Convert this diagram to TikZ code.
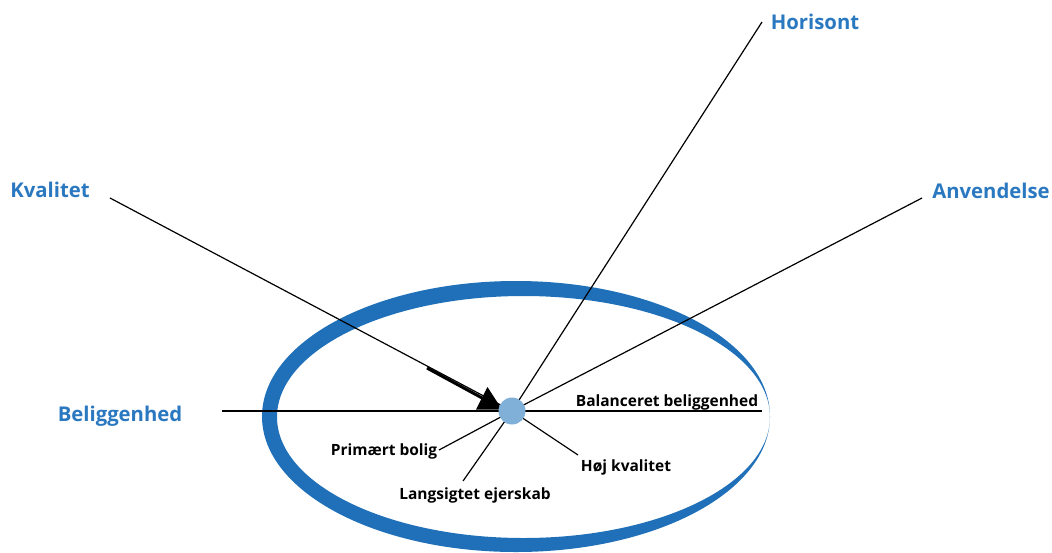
\documentclass[tikz,border=0pt]{standalone}
\usepackage{fontspec}
\setmainfont{Open Sans}
\definecolor{ringblue}{HTML}{1F70B8}
\definecolor{labelblue}{HTML}{2A78C0}
\definecolor{dotblue}{HTML}{80B0D8}
\begin{document}
\begin{tikzpicture}[x=1pt,y=-1pt,
  toplabel/.style={font=\fontsize{20.3}{24}\selectfont\bfseries, text=labelblue, anchor=base, inner sep=0pt},
  sublabel/.style={font=\fontsize{15.5}{18}\selectfont\bfseries, text=black, anchor=base, inner sep=0pt},
  spoke/.style={draw=black, line width=1.2pt}]
\useasboundingbox (0,0) rectangle (1052,552);
% ring
\fill[ringblue, even odd rule] (516,416.5) ellipse [x radius=254, y radius=135.5]
  (523.5,417) ellipse [x radius=246.5, y radius=121];
% hub position
\coordinate (c) at (512,411);
% free ends
\coordinate (kq) at (110,198);
\coordinate (ho) at (762,22);
\coordinate (an) at (922,198);
\coordinate (bl) at (222,411);
\coordinate (br) at (762,411);
\coordinate (pb) at (439,450);
\coordinate (le) at (463,481);
\coordinate (hk) at (578,455);
% spokes
\draw[spoke] (kq) -- (c);
\draw[spoke] (ho) -- (c);
\draw[spoke] (an) -- (c);
\draw[spoke] (bl) -- (br);
\draw[spoke] (pb) -- (c);
\draw[spoke] (le) -- (c);
\draw[spoke] (hk) -- (c);
% arrow on Kvalitet line
\draw[line width=3pt] (427,368) -- (484,399);
\fill[black] (476,409.5) -- (487.5,387) -- (502,409.5) -- cycle;
% hub
\node[circle, fill=dotblue, minimum size=27pt, inner sep=0pt] (hub) at (c) {};
% labels
\node[toplabel] (tkq) at (50,197) {Kvalitet};
\node[toplabel] (tho) at (815,29) {Horisont};
\node[toplabel] (tan) at (991,198) {Anvendelse};
\node[toplabel] (tbl) at (120,421) {Beliggenhed};
\node[sublabel] (sbr) at (667,406) {Balanceret beliggenhed};
\node[sublabel] (spb) at (384,455) {Primært bolig};
\node[sublabel] (sle) at (475,499) {Langsigtet ejerskab};
\node[sublabel] (shk) at (626,471) {Høj kvalitet};
\end{tikzpicture}
\end{document}
